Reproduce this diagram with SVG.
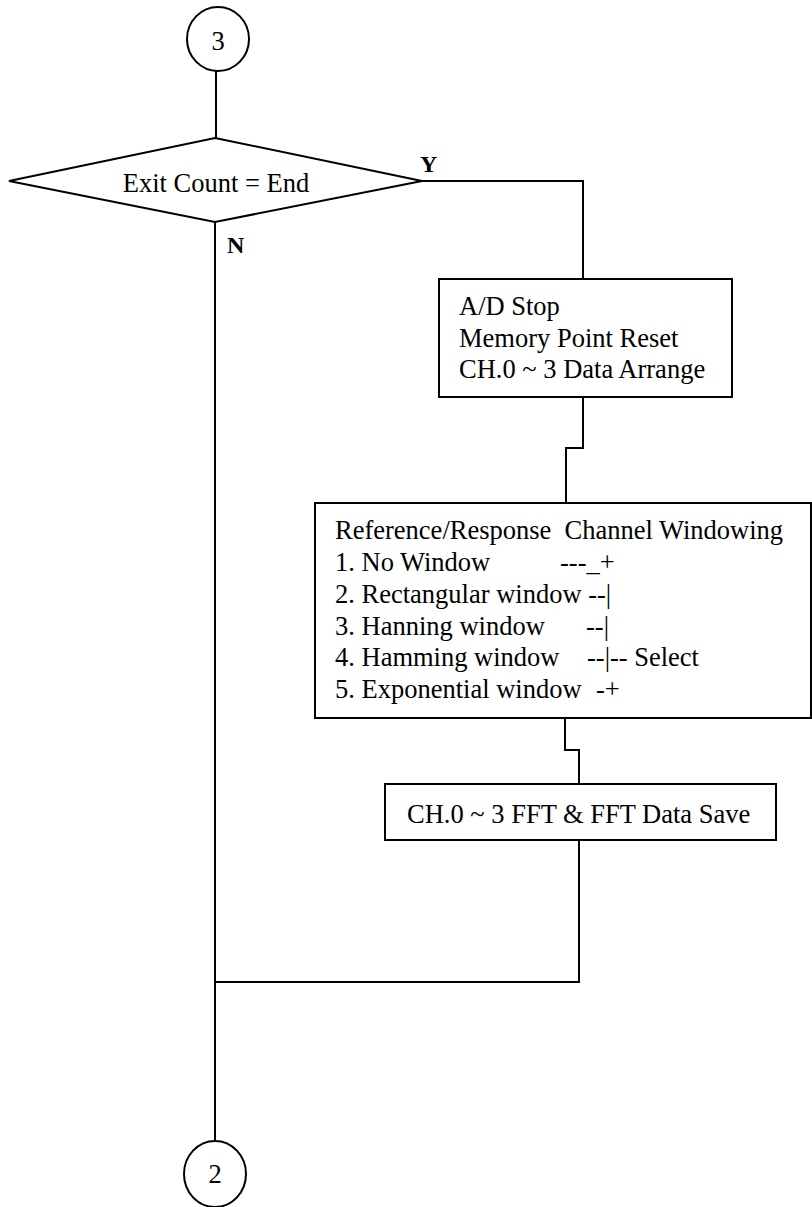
<svg xmlns="http://www.w3.org/2000/svg" width="812" height="1207" viewBox="0 0 812 1207">
  <style>
    .shape { fill: #ffffff; stroke: #000000; stroke-width: 2; }
    .wire { fill: none; stroke: #000000; stroke-width: 2; }
    .t { font-family: "Liberation Serif", "Times New Roman", serif; font-size: 26.5px; fill: #000000; white-space: pre; }
    .mid { text-anchor: middle; }
    .lbl { font-family: "Liberation Serif", "Times New Roman", serif; font-size: 24px; font-weight: bold; fill: #000000; }
  </style>

  <!-- flow lines -->
  <g id="connectors">
    <path class="wire" d="M216 71 V138"/>
    <path class="wire" d="M422 181 H583 V279"/>
    <path class="wire" d="M583 397 V448 H566 V503"/>
    <path class="wire" d="M565 718 V750 H579 V784"/>
    <path class="wire" d="M579 840 V982 H215"/>
    <path class="wire" d="M215 222 V1141"/>
    <text class="lbl" x="420" y="172">Y</text>
    <text class="lbl" x="227" y="253">N</text>
  </g>

  <g id="start-connector">
    <ellipse class="shape" cx="218" cy="39" rx="31" ry="32"/>
    <text class="t mid" x="218" y="50">3</text>
  </g>

  <g id="decision-exit-count">
    <polygon class="shape" points="215,138 422,181 215,222 9,181"/>
    <text class="t mid" x="216" y="192">Exit Count = End</text>
  </g>

  <g id="ad-stop">
    <rect class="shape" x="439" y="279" width="293" height="118"/>
    <text class="t" x="459" y="315">A/D Stop</text>
    <text class="t" x="459" y="347">Memory Point Reset</text>
    <text class="t" x="459" y="378">CH.0 ~ 3 Data Arrange</text>
  </g>

  <g id="windowing">
    <rect class="shape" x="315" y="503" width="496" height="215"/>
    <text class="t" x="335" y="539" xml:space="preserve">Reference/Response  Channel Windowing</text>
    <text class="t" x="335" y="571">1. No Window</text>
    <text class="t" x="560" y="571">---_+</text>
    <text class="t" x="335" y="603">2. Rectangular window --|</text>
    <text class="t" x="335" y="635">3. Hanning window</text>
    <text class="t" x="586" y="635">--|</text>
    <text class="t" x="335" y="666">4. Hamming window</text>
    <text class="t" x="587" y="666">--|-- Select</text>
    <text class="t" x="335" y="698">5. Exponential window</text>
    <text class="t" x="596" y="698">-+</text>
  </g>

  <g id="fft-save">
    <rect class="shape" x="385" y="784" width="391" height="56"/>
    <text class="t" x="407" y="823">CH.0 ~ 3 FFT &amp; FFT Data Save</text>
  </g>

  <g id="end-connector">
    <ellipse class="shape" cx="215" cy="1174" rx="31" ry="33"/>
    <text class="t mid" x="215" y="1183">2</text>
  </g>
</svg>
